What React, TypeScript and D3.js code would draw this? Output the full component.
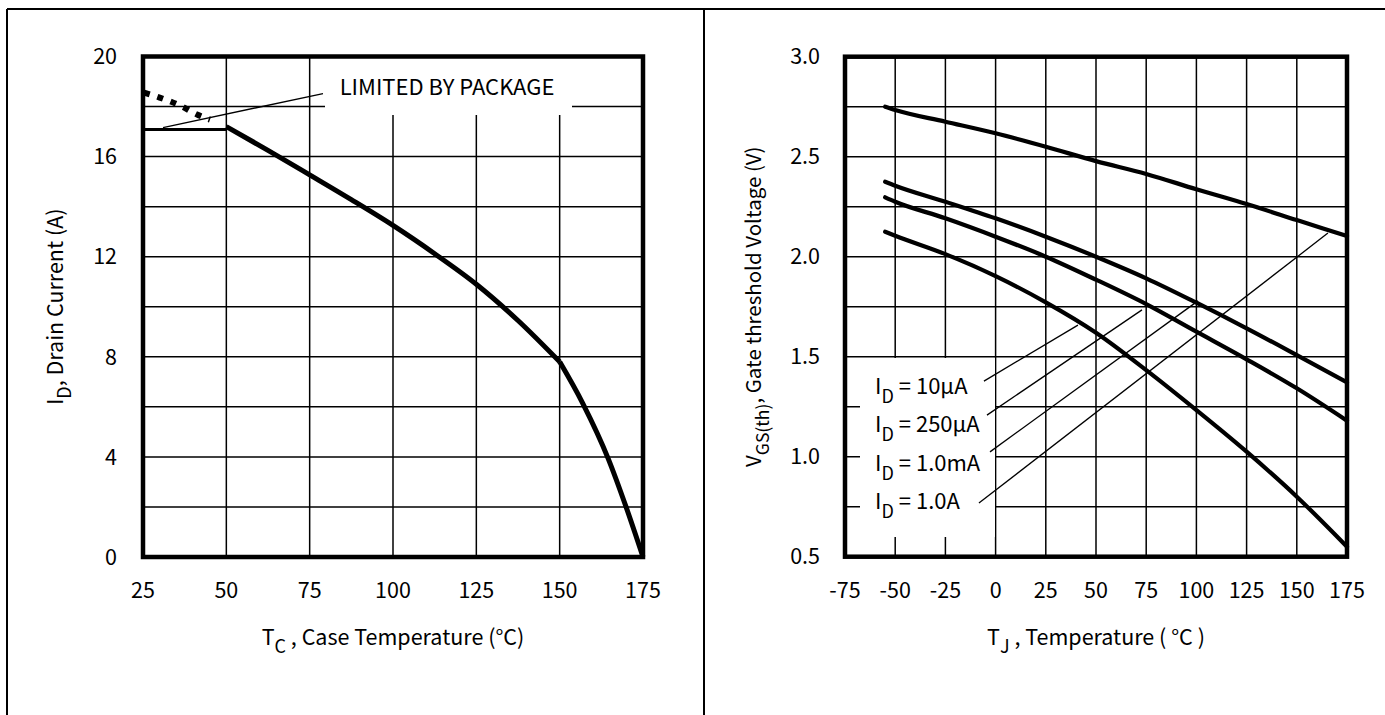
import React from 'react';
import * as d3 from 'd3';

// left panel: maximum drain current vs case temperature
const caseTicks = [25, 50, 75, 100, 125, 150, 175];
const currentTicks = [0, 4, 8, 12, 16, 20];
const caseTemp = [50, 62.5, 75, 87.5, 100, 112.5, 125, 137.5, 150, 157, 164.5, 170, 175];
const drainCurrent = [17.2, 16.25, 15.27, 14.28, 13.25, 12.12, 10.9, 9.45, 7.8, 6.12, 3.95, 1.97, 0];
const kneeIndex = 8; // the curve bends sharply at 150 °C
const packageTemp = [25, 50];
const packageLimit = [17.08, 17.08];
const siliconTemp = [25.3, 30, 36.7, 41.2, 45.1];
const siliconLimit = [18.56, 18.36, 18.0, 17.68, 17.48];
const packageLeader = [[31, 17.16], [79, 18.52]];

// right panel: gate threshold voltage vs junction temperature
const junctionTicks = [-75, -50, -25, 0, 25, 50, 75, 100, 125, 150, 175];
const voltTicks = [0.5, 1.0, 1.5, 2.0, 2.5, 3.0];
const junctionTemp = [-55, -50, -25, 0, 25, 50, 75, 100, 125, 150, 175];
const vth10uA = [2.125, 2.105, 2.013, 1.903, 1.772, 1.62, 1.433, 1.233, 1.025, 0.8, 0.55];
const vth250uA = [2.297, 2.275, 2.192, 2.1, 2.0, 1.885, 1.763, 1.625, 1.487, 1.342, 1.18];
const vth1mA = [2.375, 2.355, 2.275, 2.192, 2.1, 2.0, 1.892, 1.77, 1.642, 1.508, 1.372];
const vth1A = [2.75, 2.733, 2.675, 2.617, 2.55, 2.478, 2.414, 2.337, 2.263, 2.183, 2.103];
const currentLabels = ['10µA', '250µA', '1.0mA', '1.0A'];
// leader line ends, in (°C, V)
const labelLeaders = [
  [[-5.8, 1.378], [41, 1.658]],
  [[-4.3, 1.208], [72.9, 1.734]],
  [[-2.8, 1.024], [100.8, 1.779]],
  [[-8.3, 0.768], [165.5, 2.118]],
];

const FONT = '"Noto Sans CJK SC", "Noto Sans", sans-serif';
const TICK = 21.5;
const TITLE = 21.5;

const xL = d3.scaleLinear().domain([25, 175]).range([143, 643]);
const yL = d3.scaleLinear().domain([0, 20]).range([557, 56.5]);
const xR = d3.scaleLinear().domain([-75, 175]).range([845, 1347]);
const yR = d3.scaleLinear().domain([0.5, 3.0]).range([556.7, 56.7]);

const pts = (xs: number[], ys: number[]) => xs.map((x, i) => [x, ys[i]] as [number, number]);

const App = () => {
  const lineL = d3.line<[number, number]>().x(d => xL(d[0])).y(d => yL(d[1]));
  const smoothL = d3.line<[number, number]>().x(d => xL(d[0])).y(d => yL(d[1])).curve(d3.curveMonotoneX);
  const lineR = d3.line<[number, number]>().x(d => xR(d[0])).y(d => yR(d[1])).curve(d3.curveMonotoneX);

  const gridL = d3.range(2, 20, 2);
  const gridR = d3.range(0.75, 3.0, 0.25);
  const derating = pts(caseTemp, drainCurrent);

  return (
    <svg width={1385} height={715} style={{ position: 'absolute', left: 0, top: 0, background: '#fff' }}
      fontFamily={FONT}>
      {/* page frame */}
      <line x1={7} x2={1385} y1={9} y2={9} stroke="#000" strokeWidth={2} />
      <line x1={7} x2={7} y1={9} y2={715} stroke="#000" strokeWidth={2} />
      <line x1={704} x2={704} y1={9} y2={715} stroke="#000" strokeWidth={2} />

      {/* ---------- left chart ---------- */}
      <g stroke="#000" strokeWidth={1.5}>
        {caseTicks.slice(1, -1).map(t => (
          <line key={t} x1={xL(t)} x2={xL(t)} y1={yL(20)} y2={yL(0)} />
        ))}
        {gridL.map(v => (
          <line key={v} x1={xL(25)} x2={xL(175)} y1={yL(v)} y2={yL(v)} />
        ))}
      </g>
      <rect x={325} y={58} width={247} height={57} fill="#fff" />
      <rect x={xL(25)} y={yL(20)} width={xL(175) - xL(25)} height={yL(0) - yL(20)}
        fill="none" stroke="#000" strokeWidth={4.5} />
      <path d={lineL(pts(packageTemp, packageLimit)) || ''} fill="none" stroke="#000" strokeWidth={3} />
      <path d={smoothL(derating.slice(0, kneeIndex + 1)) || ''} fill="none" stroke="#000"
        strokeWidth={5} strokeLinejoin="round" />
      <path d={smoothL(derating.slice(kneeIndex)) || ''} fill="none" stroke="#000"
        strokeWidth={5} strokeLinejoin="round" />
      <path d={smoothL(pts(siliconTemp, siliconLimit)) || ''}
        fill="none" stroke="#000" strokeWidth={6} strokeDasharray="6 8" />
      <line x1={xL(packageLeader[0][0])} y1={yL(packageLeader[0][1])}
        x2={xL(packageLeader[1][0])} y2={yL(packageLeader[1][1])} stroke="#000" strokeWidth={1.3} />
      <text x={447} y={95} fontSize={22} textAnchor="middle">LIMITED BY PACKAGE</text>

      <g fontSize={TICK} textAnchor="end">
        {currentTicks.map(t => (
          <text key={t} x={117} y={yL(t)} dy="0.36em">{t}</text>
        ))}
      </g>
      <g fontSize={TICK} textAnchor="middle">
        {caseTicks.map(t => (
          <text key={t} x={xL(t)} y={590} dy="0.36em">{t}</text>
        ))}
      </g>
      <text x={xL(100)} y={645} fontSize={TITLE} textAnchor="middle">
        T<tspan dy={8} fontSize={18}>C</tspan><tspan dy={-8}> , Case Temperature (°C)</tspan>
      </text>
      <text transform={`translate(63,${(yL(0) + yL(20)) / 2}) rotate(-90)`} fontSize={TITLE} textAnchor="middle">
        I<tspan dy={8} fontSize={18}>D</tspan><tspan dy={-8}>,  Drain Current (A)</tspan>
      </text>

      {/* ---------- right chart ---------- */}
      <g stroke="#000" strokeWidth={1.5}>
        {junctionTicks.slice(1, -1).map(t => (
          <line key={t} x1={xR(t)} x2={xR(t)} y1={yR(3)} y2={yR(0.5)} />
        ))}
        {gridR.map(v => (
          <line key={v} x1={xR(-75)} x2={xR(175)} y1={yR(v)} y2={yR(v)} />
        ))}
      </g>
      <rect x={860} y={358} width={135} height={179} fill="#fff" />
      <rect x={xR(-75)} y={yR(3)} width={xR(175) - xR(-75)} height={yR(0.5) - yR(3)}
        fill="none" stroke="#000" strokeWidth={4.5} />
      {[vth10uA, vth250uA, vth1mA, vth1A].map((s, i) => (
        <path key={i} d={lineR(pts(junctionTemp, s)) || ''} fill="none" stroke="#000"
          strokeWidth={4.2} strokeLinecap="round" />
      ))}
      <g stroke="#000" strokeWidth={1.3}>
        {labelLeaders.map((l, i) => (
          <line key={i} x1={xR(l[0][0])} y1={yR(l[0][1])} x2={xR(l[1][0])} y2={yR(l[1][1])} />
        ))}
      </g>
      <g fontSize={22}>
        {currentLabels.map((c, i) => (
          <text key={c} x={875} y={394 + i * 38.3}>
            I<tspan dy={9} fontSize={18}>D</tspan><tspan dy={-9}> = {c}</tspan>
          </text>
        ))}
      </g>

      <g fontSize={TICK} textAnchor="end">
        {voltTicks.map(t => (
          <text key={t} x={820} y={yR(t)} dy="0.36em">{t.toFixed(1)}</text>
        ))}
      </g>
      <g fontSize={TICK} textAnchor="middle">
        {junctionTicks.map(t => (
          <text key={t} x={xR(t)} y={590} dy="0.36em">{t}</text>
        ))}
      </g>
      <text x={xR(50)} y={645} fontSize={TITLE} textAnchor="middle">
        T<tspan dy={8} fontSize={18}>J</tspan><tspan dy={-8}> , Temperature ( °C )</tspan>
      </text>
      <text transform={`translate(761,${(yR(0.5) + yR(3)) / 2}) rotate(-90)`} fontSize={20.5} textAnchor="middle">
        V<tspan dy={8} fontSize={17.5}>GS(th)</tspan><tspan dy={-8}>, Gate threshold Voltage (V)</tspan>
      </text>
    </svg>
  );
};

export default App;
